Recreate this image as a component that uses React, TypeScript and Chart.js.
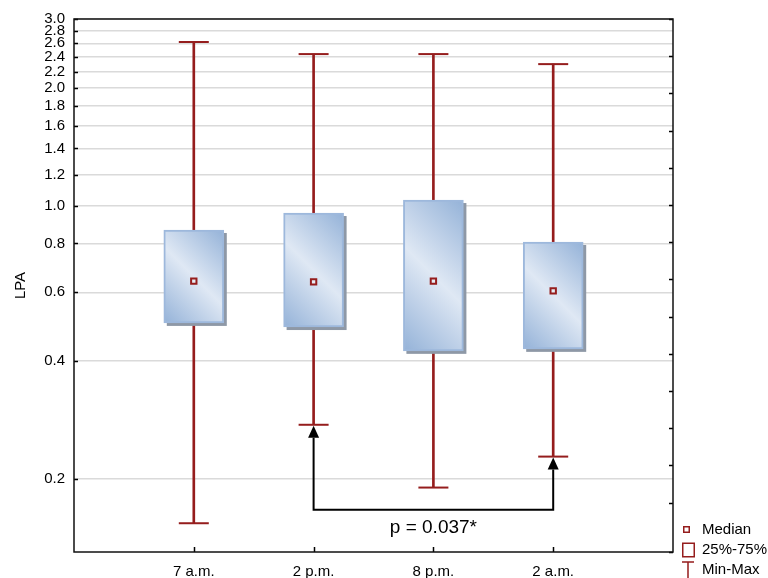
import React, { useEffect, useRef } from 'react';
import { Chart, registerables } from 'chart.js';

Chart.register(...registerables);

// ---- data ----
const categories = ['7 a.m.', '2 p.m.', '8 p.m.', '2 a.m.'];
const minValues = [0.154, 0.275, 0.19, 0.228];
const q1Values = [0.501, 0.489, 0.425, 0.43];
const medianValues = [0.641, 0.638, 0.641, 0.605];
const q3Values = [0.866, 0.957, 1.033, 0.807];
const maxValues = [2.62, 2.44, 2.44, 2.3];
const yTickValues = [0.2, 0.4, 0.6, 0.8, 1.0, 1.2, 1.4, 1.6, 1.8, 2.0, 2.2, 2.4, 2.6, 2.8, 3.0];
const legendLabels = ['Median', '25%-75%', 'Min-Max'];
const comparisonFrom = 1; // index into categories
const comparisonTo = 3;
const comparisonLevel = 0.1667;
const comparisonLabelLevel = 0.1456;
const comparisonLabel = 'p = 0.037*';

// ---- styles ----
const FONT_FAMILY = "'Liberation Sans', Arial, Helvetica, sans-serif";
const RED = '#951d1d';
const BOX_W = 60;
const BOX_DARK = '#94b2d8';
const BOX_LIGHT = '#dfe8f4';
const BOX_BORDER = '#9db8dc';
const SHADOW = '#8e98a6';
const GRID = '#dadada';

const boxGradient = (c: any) => {
  const chart = c.chart;
  if (!chart.chartArea || c.type !== 'data') return BOX_LIGHT;
  const xs = chart.scales.x;
  const ys = chart.scales.y;
  const i = c.dataIndex;
  const cx = xs.getPixelForValue(i + 1);
  const top = ys.getPixelForValue(q3Values[i]);
  const bot = ys.getPixelForValue(q1Values[i]);
  const left = cx - BOX_W / 2;
  const d = (BOX_W + (bot - top)) / 2;
  const g = chart.ctx.createLinearGradient(left, bot, left + d, bot - d);
  g.addColorStop(0, BOX_DARK);
  g.addColorStop(0.5, BOX_LIGHT);
  g.addColorStop(1, BOX_DARK);
  return g;
};

const decorPlugin = {
  id: 'decor',
  beforeDatasetDraw(chart: any, args: any) {
    if (args.meta.dataset !== undefined && args.meta.type !== 'bar') return;
    if (chart.data.datasets[args.index].label !== 'box') return;
    const ctx = chart.ctx;
    ctx.save();
    ctx.fillStyle = SHADOW;
    args.meta.data.forEach((el: any) => {
      const { x, y, base, width } = el.getProps(['x', 'y', 'base', 'width'], true);
      ctx.fillRect(x - width / 2 + 3, Math.min(y, base) + 3, width, Math.abs(base - y));
    });
    ctx.restore();
  },
  afterDraw(chart: any) {
    const { ctx, chartArea: a, scales } = chart;
    const xs = scales.x;
    const ys = scales.y;
    const y2 = scales.y2;
    ctx.save();
    // inward tick marks
    ctx.strokeStyle = '#000';
    ctx.lineWidth = 1.5;
    ctx.beginPath();
    ys.ticks.forEach((t: any) => {
      const py = Math.round(ys.getPixelForValue(t.value)) + 0.5;
      ctx.moveTo(a.left, py);
      ctx.lineTo(a.left + 4, py);
    });
    xs.ticks.forEach((t: any) => {
      const px = Math.round(xs.getPixelForValue(t.value)) + 0.5;
      ctx.moveTo(px, a.bottom);
      ctx.lineTo(px, a.bottom - 5);
    });
    y2.ticks.forEach((t: any) => {
      const py = Math.round(y2.getPixelForValue(t.value)) + 0.5;
      ctx.moveTo(a.right, py);
      ctx.lineTo(a.right - 4, py);
    });
    ctx.stroke();
    // frame
    ctx.lineWidth = 1.5;
    ctx.strokeStyle = '#111';
    ctx.strokeRect(a.left, a.top, a.right - a.left, a.bottom - a.top);

    // comparison bracket
    const xA = xs.getPixelForValue(comparisonFrom + 1);
    const xB = xs.getPixelForValue(comparisonTo + 1);
    const tipA = ys.getPixelForValue(minValues[comparisonFrom]) + 1;
    const tipB = ys.getPixelForValue(minValues[comparisonTo]) + 1;
    const lvl = ys.getPixelForValue(comparisonLevel);
    const AH = 12;
    const AW = 5.5;
    ctx.strokeStyle = '#000';
    ctx.lineWidth = 2;
    ctx.beginPath();
    ctx.moveTo(xA, tipA + AH);
    ctx.lineTo(xA, lvl);
    ctx.lineTo(xB, lvl);
    ctx.lineTo(xB, tipB + AH);
    ctx.stroke();
    ctx.fillStyle = '#000';
    [[xA, tipA], [xB, tipB]].forEach(([x, t]) => {
      ctx.beginPath();
      ctx.moveTo(x, t);
      ctx.lineTo(x - AW, t + AH);
      ctx.lineTo(x + AW, t + AH);
      ctx.closePath();
      ctx.fill();
    });
    ctx.font = `19px ${FONT_FAMILY}`;
    ctx.textAlign = 'center';
    ctx.textBaseline = 'alphabetic';
    ctx.fillText(comparisonLabel, xs.getPixelForValue((comparisonFrom + comparisonTo) / 2 + 1), ys.getPixelForValue(comparisonLabelLevel));

    // legend
    ctx.strokeStyle = RED;
    ctx.lineWidth = 1.5;
    ctx.fillStyle = '#fff';
    ctx.fillRect(684, 527, 5, 5);
    ctx.strokeRect(683.75, 526.75, 5.5, 5.5);
    ctx.strokeRect(682.75, 543.25, 11.5, 13.5);
    ctx.beginPath();
    ctx.moveTo(682, 562);
    ctx.lineTo(694, 562);
    ctx.moveTo(688, 562);
    ctx.lineTo(688, 578);
    ctx.stroke();
    ctx.fillStyle = '#000';
    ctx.font = `15px ${FONT_FAMILY}`;
    ctx.textAlign = 'left';
    ctx.textBaseline = 'middle';
    const ly = [530, 550, 570];
    legendLabels.forEach((l, i) => ctx.fillText(l, 702, ly[i]));
    ctx.restore();
  },
};

export default function App() {
  const ref = useRef<HTMLCanvasElement>(null);
  useEffect(() => {
    if (!ref.current) return;
    const font = { family: FONT_FAMILY, size: 15 };
    const xs = categories.map((_, i) => i + 1);
    const chart = new Chart(ref.current, {
      type: 'bar',
      data: {
        datasets: [
          {
            type: 'bar',
            label: 'whisker',
            data: xs.map((x, i) => ({ x, y: [minValues[i], maxValues[i]] })) as any,
            backgroundColor: RED,
            barThickness: 2,
            grouped: false,
            borderWidth: 0,
            order: 4,
          },
          {
            type: 'bar',
            label: 'box',
            data: xs.map((x, i) => ({ x, y: [q1Values[i], q3Values[i]] })) as any,
            backgroundColor: boxGradient,
            borderColor: BOX_BORDER,
            borderWidth: 2,
            borderSkipped: false,
            barThickness: BOX_W,
            grouped: false,
            order: 3,
          },
          {
            type: 'scatter',
            label: 'maxCap',
            data: xs.map((x, i) => ({ x, y: maxValues[i] })),
            pointStyle: 'line',
            pointRadius: 15,
            borderColor: RED,
            borderWidth: 2,
            order: 2,
          },
          {
            type: 'scatter',
            label: 'minCap',
            data: xs.map((x, i) => ({ x, y: minValues[i] })),
            pointStyle: 'line',
            pointRadius: 15,
            borderColor: RED,
            borderWidth: 2,
            order: 1,
          },
          {
            type: 'scatter',
            label: 'median',
            data: xs.map((x, i) => ({ x, y: medianValues[i] })),
            pointStyle: 'rect',
            pointRadius: 3.8,
            borderColor: RED,
            backgroundColor: '#e6ecf4',
            borderWidth: 2,
            order: 0,
          },
        ] as any,
      },
      options: {
        responsive: false,
        animation: false,
        events: [],
        layout: { padding: { left: 0, top: 19, right: 95, bottom: 0 } },
        plugins: { legend: { display: false }, tooltip: { enabled: false } },
        scales: {
          x: {
            type: 'linear',
            min: 0,
            max: categories.length + 1,
            offset: false,
            afterBuildTicks: (s: any) => {
              s.ticks = categories.map((_, i) => ({ value: i + 1 }));
            },
            ticks: {
              callback: (v: any) => categories[Math.round(Number(v)) - 1] ?? '',
              font,
              color: '#000',
              padding: 11,
              maxRotation: 0,
              autoSkip: false,
            },
            grid: { display: false, drawTicks: false, offset: false },
            border: { display: false },
            afterFit: (s: any) => {
              s.height = 26;
            },
          },
          y: {
            type: 'logarithmic',
            min: 0.13,
            max: 3.0,
            afterBuildTicks: (s: any) => {
              s.ticks = yTickValues.map((v) => ({ value: v }));
            },
            ticks: {
              callback: (v: any) => Number(v).toFixed(1),
              autoSkip: false,
              font,
              color: '#000',
              padding: 9,
            },
            grid: { color: GRID, lineWidth: 1.5, drawTicks: false },
            border: { display: false },
            title: { display: true, text: 'LPA', font, color: '#000', padding: { top: 12, bottom: 0 } },
            afterFit: (s: any) => {
              s.width = 74;
            },
          },
          y2: {
            type: 'linear',
            position: 'right',
            min: 0,
            max: 14.33,
            reverse: true,
            ticks: { display: false, stepSize: 1 },
            grid: { display: false, drawOnChartArea: false, drawTicks: false },
            border: { display: false },
            afterFit: (s: any) => {
              s.width = 0;
            },
          },
        },
      } as any,
      plugins: [decorPlugin],
    });
    return () => chart.destroy();
  }, []);
  return (
    <div style={{ position: 'fixed', left: 0, top: 0, width: 768, height: 578, background: '#fff' }}>
      <canvas ref={ref} width={768} height={578} style={{ display: 'block' }} />
    </div>
  );
}
